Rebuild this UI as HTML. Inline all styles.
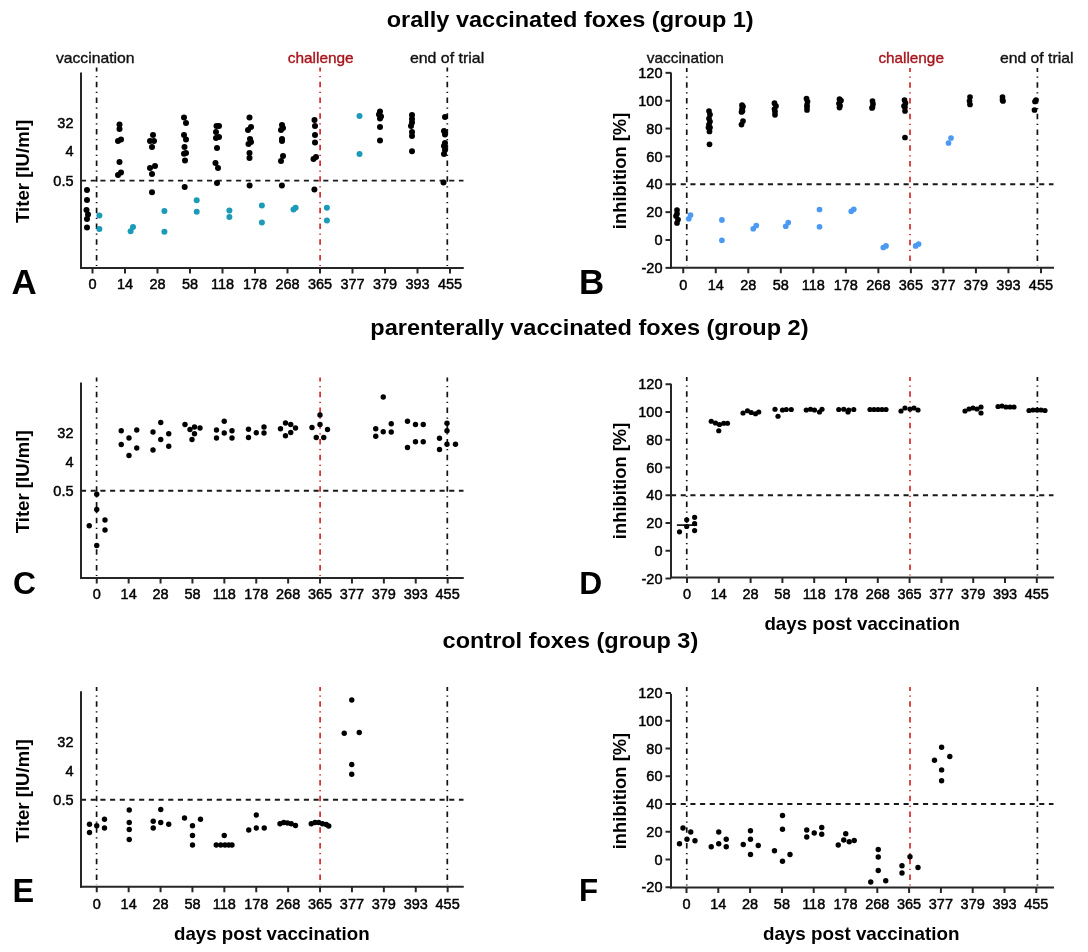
<!DOCTYPE html><html><head><meta charset="utf-8"><style>html,body{margin:0;padding:0;background:#fff;width:1088px;height:952px;overflow:hidden}</style></head><body><svg width="1088" height="952" viewBox="0 0 1088 952" style="position:absolute;left:0;top:0;will-change:transform;font-family:'Liberation Sans', sans-serif">
<rect width="1088" height="952" fill="#fff"/>
<text x="386.70" y="27.20" font-size="22" font-weight="bold" text-anchor="start" fill="#000" textLength="367" lengthAdjust="spacingAndGlyphs">orally vaccinated foxes (group 1)</text>
<text x="370.30" y="335.40" font-size="22" font-weight="bold" text-anchor="start" fill="#000" textLength="438.2" lengthAdjust="spacingAndGlyphs">parenterally vaccinated foxes (group 2)</text>
<text x="442.60" y="647.60" font-size="22" font-weight="bold" text-anchor="start" fill="#000" textLength="255.6" lengthAdjust="spacingAndGlyphs">control foxes (group 3)</text>
<text x="55.90" y="62.60" font-size="15" font-weight="normal" text-anchor="start" fill="#111" textLength="78.7" lengthAdjust="spacingAndGlyphs" stroke="#111" stroke-width="0.35">vaccination</text>
<text x="287.70" y="62.60" font-size="15" font-weight="normal" text-anchor="start" fill="#a8141c" textLength="66" lengthAdjust="spacingAndGlyphs" stroke="#a8141c" stroke-width="0.35">challenge</text>
<text x="409.90" y="62.60" font-size="15" font-weight="normal" text-anchor="start" fill="#111" textLength="74.3" lengthAdjust="spacingAndGlyphs" stroke="#111" stroke-width="0.35">end of trial</text>
<text x="646.80" y="62.60" font-size="15" font-weight="normal" text-anchor="start" fill="#111" textLength="77" lengthAdjust="spacingAndGlyphs" stroke="#111" stroke-width="0.35">vaccination</text>
<text x="878.40" y="62.60" font-size="15" font-weight="normal" text-anchor="start" fill="#a8141c" textLength="65.5" lengthAdjust="spacingAndGlyphs" stroke="#a8141c" stroke-width="0.35">challenge</text>
<text x="999.90" y="62.60" font-size="15" font-weight="normal" text-anchor="start" fill="#111" textLength="73.5" lengthAdjust="spacingAndGlyphs" stroke="#111" stroke-width="0.35">end of trial</text>
<line x1="81.00" y1="72.50" x2="81.00" y2="269.00" stroke="#262626" stroke-width="2"/>
<line x1="80.00" y1="268.00" x2="463.75" y2="268.00" stroke="#262626" stroke-width="2"/>
<line x1="92.50" y1="268.00" x2="92.50" y2="273.50" stroke="#262626" stroke-width="2"/>
<text x="92.50" y="289.20" font-size="14.5" font-weight="normal" text-anchor="middle" fill="#000" stroke="#000" stroke-width="0.45">0</text>
<line x1="125.00" y1="268.00" x2="125.00" y2="273.50" stroke="#262626" stroke-width="2"/>
<text x="125.00" y="289.20" font-size="14.5" font-weight="normal" text-anchor="middle" fill="#000" stroke="#000" stroke-width="0.45">14</text>
<line x1="157.50" y1="268.00" x2="157.50" y2="273.50" stroke="#262626" stroke-width="2"/>
<text x="157.50" y="289.20" font-size="14.5" font-weight="normal" text-anchor="middle" fill="#000" stroke="#000" stroke-width="0.45">28</text>
<line x1="190.00" y1="268.00" x2="190.00" y2="273.50" stroke="#262626" stroke-width="2"/>
<text x="190.00" y="289.20" font-size="14.5" font-weight="normal" text-anchor="middle" fill="#000" stroke="#000" stroke-width="0.45">58</text>
<line x1="222.50" y1="268.00" x2="222.50" y2="273.50" stroke="#262626" stroke-width="2"/>
<text x="222.50" y="289.20" font-size="14.5" font-weight="normal" text-anchor="middle" fill="#000" stroke="#000" stroke-width="0.45">118</text>
<line x1="255.00" y1="268.00" x2="255.00" y2="273.50" stroke="#262626" stroke-width="2"/>
<text x="255.00" y="289.20" font-size="14.5" font-weight="normal" text-anchor="middle" fill="#000" stroke="#000" stroke-width="0.45">178</text>
<line x1="287.50" y1="268.00" x2="287.50" y2="273.50" stroke="#262626" stroke-width="2"/>
<text x="287.50" y="289.20" font-size="14.5" font-weight="normal" text-anchor="middle" fill="#000" stroke="#000" stroke-width="0.45">268</text>
<line x1="320.00" y1="268.00" x2="320.00" y2="273.50" stroke="#262626" stroke-width="2"/>
<text x="320.00" y="289.20" font-size="14.5" font-weight="normal" text-anchor="middle" fill="#000" stroke="#000" stroke-width="0.45">365</text>
<line x1="352.50" y1="268.00" x2="352.50" y2="273.50" stroke="#262626" stroke-width="2"/>
<text x="352.50" y="289.20" font-size="14.5" font-weight="normal" text-anchor="middle" fill="#000" stroke="#000" stroke-width="0.45">377</text>
<line x1="385.00" y1="268.00" x2="385.00" y2="273.50" stroke="#262626" stroke-width="2"/>
<text x="385.00" y="289.20" font-size="14.5" font-weight="normal" text-anchor="middle" fill="#000" stroke="#000" stroke-width="0.45">379</text>
<line x1="417.50" y1="268.00" x2="417.50" y2="273.50" stroke="#262626" stroke-width="2"/>
<text x="417.50" y="289.20" font-size="14.5" font-weight="normal" text-anchor="middle" fill="#000" stroke="#000" stroke-width="0.45">393</text>
<line x1="450.00" y1="268.00" x2="450.00" y2="273.50" stroke="#262626" stroke-width="2"/>
<text x="450.00" y="289.20" font-size="14.5" font-weight="normal" text-anchor="middle" fill="#000" stroke="#000" stroke-width="0.45">455</text>
<text x="73.50" y="127.70" font-size="14.5" font-weight="normal" text-anchor="end" fill="#000" stroke="#000" stroke-width="0.45">32</text>
<text x="73.50" y="156.20" font-size="14.5" font-weight="normal" text-anchor="end" fill="#000" stroke="#000" stroke-width="0.45">4</text>
<text x="73.50" y="185.60" font-size="14.5" font-weight="normal" text-anchor="end" fill="#000" stroke="#000" stroke-width="0.45">0.5</text>
<line x1="82.00" y1="180.60" x2="463.50" y2="180.60" stroke="#1a1a1a" stroke-width="1.9" stroke-dasharray="5.1,4.59" stroke-dashoffset="1"/>
<line x1="96.60" y1="67.50" x2="96.60" y2="266.00" stroke="#111" stroke-width="1.7" stroke-dasharray="5.4,4.5,1.3,4.55" stroke-dashoffset="1.5"/>
<line x1="320.10" y1="67.50" x2="320.10" y2="266.00" stroke="#d42a2a" stroke-width="1.7" stroke-dasharray="5.4,4.5,1.3,4.55" stroke-dashoffset="1.5"/>
<line x1="447.30" y1="67.50" x2="447.30" y2="266.00" stroke="#111" stroke-width="1.7" stroke-dasharray="5.4,4.5,1.3,4.55" stroke-dashoffset="1.5"/>
<text transform="translate(28.90,171.40) rotate(-90)" font-size="17.5" font-weight="bold" text-anchor="middle" fill="#000" textLength="103" lengthAdjust="spacingAndGlyphs">Titer [IU/ml]</text>
<text x="11.60" y="293.50" font-size="34.91620111731844" font-weight="bold" text-anchor="start" fill="#000">A</text>
<line x1="81.00" y1="382.50" x2="81.00" y2="579.00" stroke="#262626" stroke-width="2"/>
<line x1="80.00" y1="578.00" x2="463.75" y2="578.00" stroke="#262626" stroke-width="2"/>
<line x1="96.75" y1="578.00" x2="96.75" y2="583.50" stroke="#262626" stroke-width="2"/>
<text x="96.75" y="599.00" font-size="14.5" font-weight="normal" text-anchor="middle" fill="#000" stroke="#000" stroke-width="0.45">0</text>
<line x1="128.65" y1="578.00" x2="128.65" y2="583.50" stroke="#262626" stroke-width="2"/>
<text x="128.65" y="599.00" font-size="14.5" font-weight="normal" text-anchor="middle" fill="#000" stroke="#000" stroke-width="0.45">14</text>
<line x1="160.55" y1="578.00" x2="160.55" y2="583.50" stroke="#262626" stroke-width="2"/>
<text x="160.55" y="599.00" font-size="14.5" font-weight="normal" text-anchor="middle" fill="#000" stroke="#000" stroke-width="0.45">28</text>
<line x1="192.45" y1="578.00" x2="192.45" y2="583.50" stroke="#262626" stroke-width="2"/>
<text x="192.45" y="599.00" font-size="14.5" font-weight="normal" text-anchor="middle" fill="#000" stroke="#000" stroke-width="0.45">58</text>
<line x1="224.35" y1="578.00" x2="224.35" y2="583.50" stroke="#262626" stroke-width="2"/>
<text x="224.35" y="599.00" font-size="14.5" font-weight="normal" text-anchor="middle" fill="#000" stroke="#000" stroke-width="0.45">118</text>
<line x1="256.25" y1="578.00" x2="256.25" y2="583.50" stroke="#262626" stroke-width="2"/>
<text x="256.25" y="599.00" font-size="14.5" font-weight="normal" text-anchor="middle" fill="#000" stroke="#000" stroke-width="0.45">178</text>
<line x1="288.15" y1="578.00" x2="288.15" y2="583.50" stroke="#262626" stroke-width="2"/>
<text x="288.15" y="599.00" font-size="14.5" font-weight="normal" text-anchor="middle" fill="#000" stroke="#000" stroke-width="0.45">268</text>
<line x1="320.05" y1="578.00" x2="320.05" y2="583.50" stroke="#262626" stroke-width="2"/>
<text x="320.05" y="599.00" font-size="14.5" font-weight="normal" text-anchor="middle" fill="#000" stroke="#000" stroke-width="0.45">365</text>
<line x1="351.95" y1="578.00" x2="351.95" y2="583.50" stroke="#262626" stroke-width="2"/>
<text x="351.95" y="599.00" font-size="14.5" font-weight="normal" text-anchor="middle" fill="#000" stroke="#000" stroke-width="0.45">377</text>
<line x1="383.85" y1="578.00" x2="383.85" y2="583.50" stroke="#262626" stroke-width="2"/>
<text x="383.85" y="599.00" font-size="14.5" font-weight="normal" text-anchor="middle" fill="#000" stroke="#000" stroke-width="0.45">379</text>
<line x1="415.75" y1="578.00" x2="415.75" y2="583.50" stroke="#262626" stroke-width="2"/>
<text x="415.75" y="599.00" font-size="14.5" font-weight="normal" text-anchor="middle" fill="#000" stroke="#000" stroke-width="0.45">393</text>
<line x1="447.65" y1="578.00" x2="447.65" y2="583.50" stroke="#262626" stroke-width="2"/>
<text x="447.65" y="599.00" font-size="14.5" font-weight="normal" text-anchor="middle" fill="#000" stroke="#000" stroke-width="0.45">455</text>
<text x="73.50" y="438.10" font-size="14.5" font-weight="normal" text-anchor="end" fill="#000" stroke="#000" stroke-width="0.45">32</text>
<text x="73.50" y="466.60" font-size="14.5" font-weight="normal" text-anchor="end" fill="#000" stroke="#000" stroke-width="0.45">4</text>
<text x="73.50" y="496.00" font-size="14.5" font-weight="normal" text-anchor="end" fill="#000" stroke="#000" stroke-width="0.45">0.5</text>
<line x1="82.00" y1="490.75" x2="463.50" y2="490.75" stroke="#1a1a1a" stroke-width="1.9" stroke-dasharray="5.1,4.59" stroke-dashoffset="1"/>
<line x1="96.60" y1="377.50" x2="96.60" y2="576.00" stroke="#111" stroke-width="1.7" stroke-dasharray="5.4,4.5,1.3,4.55" stroke-dashoffset="1.5"/>
<line x1="320.10" y1="377.50" x2="320.10" y2="576.00" stroke="#d42a2a" stroke-width="1.7" stroke-dasharray="5.4,4.5,1.3,4.55" stroke-dashoffset="1.5"/>
<line x1="447.30" y1="377.50" x2="447.30" y2="576.00" stroke="#111" stroke-width="1.7" stroke-dasharray="5.4,4.5,1.3,4.55" stroke-dashoffset="1.5"/>
<text transform="translate(28.90,481.80) rotate(-90)" font-size="17.5" font-weight="bold" text-anchor="middle" fill="#000" textLength="103" lengthAdjust="spacingAndGlyphs">Titer [IU/ml]</text>
<text x="13.00" y="593.75" font-size="31.773743016759777" font-weight="bold" text-anchor="start" fill="#000">C</text>
<line x1="81.00" y1="691.25" x2="81.00" y2="887.75" stroke="#262626" stroke-width="2"/>
<line x1="80.00" y1="886.75" x2="463.75" y2="886.75" stroke="#262626" stroke-width="2"/>
<line x1="96.75" y1="886.75" x2="96.75" y2="892.25" stroke="#262626" stroke-width="2"/>
<text x="96.75" y="908.70" font-size="14.5" font-weight="normal" text-anchor="middle" fill="#000" stroke="#000" stroke-width="0.45">0</text>
<line x1="128.65" y1="886.75" x2="128.65" y2="892.25" stroke="#262626" stroke-width="2"/>
<text x="128.65" y="908.70" font-size="14.5" font-weight="normal" text-anchor="middle" fill="#000" stroke="#000" stroke-width="0.45">14</text>
<line x1="160.55" y1="886.75" x2="160.55" y2="892.25" stroke="#262626" stroke-width="2"/>
<text x="160.55" y="908.70" font-size="14.5" font-weight="normal" text-anchor="middle" fill="#000" stroke="#000" stroke-width="0.45">28</text>
<line x1="192.45" y1="886.75" x2="192.45" y2="892.25" stroke="#262626" stroke-width="2"/>
<text x="192.45" y="908.70" font-size="14.5" font-weight="normal" text-anchor="middle" fill="#000" stroke="#000" stroke-width="0.45">58</text>
<line x1="224.35" y1="886.75" x2="224.35" y2="892.25" stroke="#262626" stroke-width="2"/>
<text x="224.35" y="908.70" font-size="14.5" font-weight="normal" text-anchor="middle" fill="#000" stroke="#000" stroke-width="0.45">118</text>
<line x1="256.25" y1="886.75" x2="256.25" y2="892.25" stroke="#262626" stroke-width="2"/>
<text x="256.25" y="908.70" font-size="14.5" font-weight="normal" text-anchor="middle" fill="#000" stroke="#000" stroke-width="0.45">178</text>
<line x1="288.15" y1="886.75" x2="288.15" y2="892.25" stroke="#262626" stroke-width="2"/>
<text x="288.15" y="908.70" font-size="14.5" font-weight="normal" text-anchor="middle" fill="#000" stroke="#000" stroke-width="0.45">268</text>
<line x1="320.05" y1="886.75" x2="320.05" y2="892.25" stroke="#262626" stroke-width="2"/>
<text x="320.05" y="908.70" font-size="14.5" font-weight="normal" text-anchor="middle" fill="#000" stroke="#000" stroke-width="0.45">365</text>
<line x1="351.95" y1="886.75" x2="351.95" y2="892.25" stroke="#262626" stroke-width="2"/>
<text x="351.95" y="908.70" font-size="14.5" font-weight="normal" text-anchor="middle" fill="#000" stroke="#000" stroke-width="0.45">377</text>
<line x1="383.85" y1="886.75" x2="383.85" y2="892.25" stroke="#262626" stroke-width="2"/>
<text x="383.85" y="908.70" font-size="14.5" font-weight="normal" text-anchor="middle" fill="#000" stroke="#000" stroke-width="0.45">379</text>
<line x1="415.75" y1="886.75" x2="415.75" y2="892.25" stroke="#262626" stroke-width="2"/>
<text x="415.75" y="908.70" font-size="14.5" font-weight="normal" text-anchor="middle" fill="#000" stroke="#000" stroke-width="0.45">393</text>
<line x1="447.65" y1="886.75" x2="447.65" y2="892.25" stroke="#262626" stroke-width="2"/>
<text x="447.65" y="908.70" font-size="14.5" font-weight="normal" text-anchor="middle" fill="#000" stroke="#000" stroke-width="0.45">455</text>
<text x="73.50" y="747.20" font-size="14.5" font-weight="normal" text-anchor="end" fill="#000" stroke="#000" stroke-width="0.45">32</text>
<text x="73.50" y="775.70" font-size="14.5" font-weight="normal" text-anchor="end" fill="#000" stroke="#000" stroke-width="0.45">4</text>
<text x="73.50" y="805.10" font-size="14.5" font-weight="normal" text-anchor="end" fill="#000" stroke="#000" stroke-width="0.45">0.5</text>
<line x1="82.00" y1="799.75" x2="463.50" y2="799.75" stroke="#1a1a1a" stroke-width="1.9" stroke-dasharray="5.1,4.59" stroke-dashoffset="1"/>
<line x1="96.60" y1="687.00" x2="96.60" y2="884.75" stroke="#111" stroke-width="1.7" stroke-dasharray="5.4,4.5,1.3,4.55" stroke-dashoffset="1.5"/>
<line x1="320.10" y1="687.00" x2="320.10" y2="884.75" stroke="#d42a2a" stroke-width="1.7" stroke-dasharray="5.4,4.5,1.3,4.55" stroke-dashoffset="1.5"/>
<line x1="447.30" y1="687.00" x2="447.30" y2="884.75" stroke="#111" stroke-width="1.7" stroke-dasharray="5.4,4.5,1.3,4.55" stroke-dashoffset="1.5"/>
<text transform="translate(28.90,790.90) rotate(-90)" font-size="17.5" font-weight="bold" text-anchor="middle" fill="#000" textLength="103" lengthAdjust="spacingAndGlyphs">Titer [IU/ml]</text>
<text x="12.50" y="902.00" font-size="32.47206703910614" font-weight="bold" text-anchor="start" fill="#000">E</text>
<line x1="671.00" y1="72.50" x2="671.00" y2="268.75" stroke="#262626" stroke-width="2"/>
<line x1="670.00" y1="267.75" x2="1054.00" y2="267.75" stroke="#262626" stroke-width="2"/>
<line x1="683.25" y1="267.75" x2="683.25" y2="273.25" stroke="#262626" stroke-width="2"/>
<text x="683.25" y="289.70" font-size="14.5" font-weight="normal" text-anchor="middle" fill="#000" stroke="#000" stroke-width="0.45">0</text>
<line x1="715.77" y1="267.75" x2="715.77" y2="273.25" stroke="#262626" stroke-width="2"/>
<text x="715.77" y="289.70" font-size="14.5" font-weight="normal" text-anchor="middle" fill="#000" stroke="#000" stroke-width="0.45">14</text>
<line x1="748.29" y1="267.75" x2="748.29" y2="273.25" stroke="#262626" stroke-width="2"/>
<text x="748.29" y="289.70" font-size="14.5" font-weight="normal" text-anchor="middle" fill="#000" stroke="#000" stroke-width="0.45">28</text>
<line x1="780.81" y1="267.75" x2="780.81" y2="273.25" stroke="#262626" stroke-width="2"/>
<text x="780.81" y="289.70" font-size="14.5" font-weight="normal" text-anchor="middle" fill="#000" stroke="#000" stroke-width="0.45">58</text>
<line x1="813.33" y1="267.75" x2="813.33" y2="273.25" stroke="#262626" stroke-width="2"/>
<text x="813.33" y="289.70" font-size="14.5" font-weight="normal" text-anchor="middle" fill="#000" stroke="#000" stroke-width="0.45">118</text>
<line x1="845.85" y1="267.75" x2="845.85" y2="273.25" stroke="#262626" stroke-width="2"/>
<text x="845.85" y="289.70" font-size="14.5" font-weight="normal" text-anchor="middle" fill="#000" stroke="#000" stroke-width="0.45">178</text>
<line x1="878.37" y1="267.75" x2="878.37" y2="273.25" stroke="#262626" stroke-width="2"/>
<text x="878.37" y="289.70" font-size="14.5" font-weight="normal" text-anchor="middle" fill="#000" stroke="#000" stroke-width="0.45">268</text>
<line x1="910.89" y1="267.75" x2="910.89" y2="273.25" stroke="#262626" stroke-width="2"/>
<text x="910.89" y="289.70" font-size="14.5" font-weight="normal" text-anchor="middle" fill="#000" stroke="#000" stroke-width="0.45">365</text>
<line x1="943.41" y1="267.75" x2="943.41" y2="273.25" stroke="#262626" stroke-width="2"/>
<text x="943.41" y="289.70" font-size="14.5" font-weight="normal" text-anchor="middle" fill="#000" stroke="#000" stroke-width="0.45">377</text>
<line x1="975.93" y1="267.75" x2="975.93" y2="273.25" stroke="#262626" stroke-width="2"/>
<text x="975.93" y="289.70" font-size="14.5" font-weight="normal" text-anchor="middle" fill="#000" stroke="#000" stroke-width="0.45">379</text>
<line x1="1008.45" y1="267.75" x2="1008.45" y2="273.25" stroke="#262626" stroke-width="2"/>
<text x="1008.45" y="289.70" font-size="14.5" font-weight="normal" text-anchor="middle" fill="#000" stroke="#000" stroke-width="0.45">393</text>
<line x1="1040.97" y1="267.75" x2="1040.97" y2="273.25" stroke="#262626" stroke-width="2"/>
<text x="1040.97" y="289.70" font-size="14.5" font-weight="normal" text-anchor="middle" fill="#000" stroke="#000" stroke-width="0.45">455</text>
<line x1="665.50" y1="267.86" x2="671.00" y2="267.86" stroke="#262626" stroke-width="2"/>
<text x="662.50" y="273.06" font-size="14.5" font-weight="normal" text-anchor="end" fill="#000" stroke="#000" stroke-width="0.45">-20</text>
<line x1="665.50" y1="240.00" x2="671.00" y2="240.00" stroke="#262626" stroke-width="2"/>
<text x="662.50" y="245.20" font-size="14.5" font-weight="normal" text-anchor="end" fill="#000" stroke="#000" stroke-width="0.45">0</text>
<line x1="665.50" y1="212.14" x2="671.00" y2="212.14" stroke="#262626" stroke-width="2"/>
<text x="662.50" y="217.34" font-size="14.5" font-weight="normal" text-anchor="end" fill="#000" stroke="#000" stroke-width="0.45">20</text>
<line x1="665.50" y1="184.28" x2="671.00" y2="184.28" stroke="#262626" stroke-width="2"/>
<text x="662.50" y="189.48" font-size="14.5" font-weight="normal" text-anchor="end" fill="#000" stroke="#000" stroke-width="0.45">40</text>
<line x1="665.50" y1="156.42" x2="671.00" y2="156.42" stroke="#262626" stroke-width="2"/>
<text x="662.50" y="161.62" font-size="14.5" font-weight="normal" text-anchor="end" fill="#000" stroke="#000" stroke-width="0.45">60</text>
<line x1="665.50" y1="128.56" x2="671.00" y2="128.56" stroke="#262626" stroke-width="2"/>
<text x="662.50" y="133.76" font-size="14.5" font-weight="normal" text-anchor="end" fill="#000" stroke="#000" stroke-width="0.45">80</text>
<line x1="665.50" y1="100.70" x2="671.00" y2="100.70" stroke="#262626" stroke-width="2"/>
<text x="662.50" y="105.90" font-size="14.5" font-weight="normal" text-anchor="end" fill="#000" stroke="#000" stroke-width="0.45">100</text>
<line x1="665.50" y1="72.84" x2="671.00" y2="72.84" stroke="#262626" stroke-width="2"/>
<text x="662.50" y="78.04" font-size="14.5" font-weight="normal" text-anchor="end" fill="#000" stroke="#000" stroke-width="0.45">120</text>
<line x1="672.00" y1="184.28" x2="1053.50" y2="184.28" stroke="#1a1a1a" stroke-width="1.9" stroke-dasharray="5.1,4.59" stroke-dashoffset="1"/>
<line x1="686.75" y1="68.00" x2="686.75" y2="265.75" stroke="#111" stroke-width="1.7" stroke-dasharray="5.4,4.5,1.3,4.55" stroke-dashoffset="1.5"/>
<line x1="910.00" y1="68.00" x2="910.00" y2="265.75" stroke="#d42a2a" stroke-width="1.7" stroke-dasharray="5.4,4.5,1.3,4.55" stroke-dashoffset="1.5"/>
<line x1="1037.40" y1="68.00" x2="1037.40" y2="265.75" stroke="#111" stroke-width="1.7" stroke-dasharray="5.4,4.5,1.3,4.55" stroke-dashoffset="1.5"/>
<text transform="translate(626.00,170.90) rotate(-90)" font-size="18.8" font-weight="bold" text-anchor="middle" fill="#000" textLength="116.5" lengthAdjust="spacingAndGlyphs">inhibition [%]</text>
<text x="579.10" y="293.50" font-size="34.91620111731844" font-weight="bold" text-anchor="start" fill="#000">B</text>
<line x1="671.00" y1="383.75" x2="671.00" y2="578.50" stroke="#262626" stroke-width="2"/>
<line x1="670.00" y1="577.50" x2="1054.00" y2="577.50" stroke="#262626" stroke-width="2"/>
<line x1="687.00" y1="577.50" x2="687.00" y2="583.00" stroke="#262626" stroke-width="2"/>
<text x="687.00" y="599.45" font-size="14.5" font-weight="normal" text-anchor="middle" fill="#000" stroke="#000" stroke-width="0.45">0</text>
<line x1="718.80" y1="577.50" x2="718.80" y2="583.00" stroke="#262626" stroke-width="2"/>
<text x="718.80" y="599.45" font-size="14.5" font-weight="normal" text-anchor="middle" fill="#000" stroke="#000" stroke-width="0.45">14</text>
<line x1="750.60" y1="577.50" x2="750.60" y2="583.00" stroke="#262626" stroke-width="2"/>
<text x="750.60" y="599.45" font-size="14.5" font-weight="normal" text-anchor="middle" fill="#000" stroke="#000" stroke-width="0.45">28</text>
<line x1="782.40" y1="577.50" x2="782.40" y2="583.00" stroke="#262626" stroke-width="2"/>
<text x="782.40" y="599.45" font-size="14.5" font-weight="normal" text-anchor="middle" fill="#000" stroke="#000" stroke-width="0.45">58</text>
<line x1="814.20" y1="577.50" x2="814.20" y2="583.00" stroke="#262626" stroke-width="2"/>
<text x="814.20" y="599.45" font-size="14.5" font-weight="normal" text-anchor="middle" fill="#000" stroke="#000" stroke-width="0.45">118</text>
<line x1="846.00" y1="577.50" x2="846.00" y2="583.00" stroke="#262626" stroke-width="2"/>
<text x="846.00" y="599.45" font-size="14.5" font-weight="normal" text-anchor="middle" fill="#000" stroke="#000" stroke-width="0.45">178</text>
<line x1="877.80" y1="577.50" x2="877.80" y2="583.00" stroke="#262626" stroke-width="2"/>
<text x="877.80" y="599.45" font-size="14.5" font-weight="normal" text-anchor="middle" fill="#000" stroke="#000" stroke-width="0.45">268</text>
<line x1="909.60" y1="577.50" x2="909.60" y2="583.00" stroke="#262626" stroke-width="2"/>
<text x="909.60" y="599.45" font-size="14.5" font-weight="normal" text-anchor="middle" fill="#000" stroke="#000" stroke-width="0.45">365</text>
<line x1="941.40" y1="577.50" x2="941.40" y2="583.00" stroke="#262626" stroke-width="2"/>
<text x="941.40" y="599.45" font-size="14.5" font-weight="normal" text-anchor="middle" fill="#000" stroke="#000" stroke-width="0.45">377</text>
<line x1="973.20" y1="577.50" x2="973.20" y2="583.00" stroke="#262626" stroke-width="2"/>
<text x="973.20" y="599.45" font-size="14.5" font-weight="normal" text-anchor="middle" fill="#000" stroke="#000" stroke-width="0.45">379</text>
<line x1="1005.00" y1="577.50" x2="1005.00" y2="583.00" stroke="#262626" stroke-width="2"/>
<text x="1005.00" y="599.45" font-size="14.5" font-weight="normal" text-anchor="middle" fill="#000" stroke="#000" stroke-width="0.45">393</text>
<line x1="1036.80" y1="577.50" x2="1036.80" y2="583.00" stroke="#262626" stroke-width="2"/>
<text x="1036.80" y="599.45" font-size="14.5" font-weight="normal" text-anchor="middle" fill="#000" stroke="#000" stroke-width="0.45">455</text>
<line x1="665.50" y1="578.50" x2="671.00" y2="578.50" stroke="#262626" stroke-width="2"/>
<text x="662.50" y="583.70" font-size="14.5" font-weight="normal" text-anchor="end" fill="#000" stroke="#000" stroke-width="0.45">-20</text>
<line x1="665.50" y1="550.75" x2="671.00" y2="550.75" stroke="#262626" stroke-width="2"/>
<text x="662.50" y="555.95" font-size="14.5" font-weight="normal" text-anchor="end" fill="#000" stroke="#000" stroke-width="0.45">0</text>
<line x1="665.50" y1="523.00" x2="671.00" y2="523.00" stroke="#262626" stroke-width="2"/>
<text x="662.50" y="528.20" font-size="14.5" font-weight="normal" text-anchor="end" fill="#000" stroke="#000" stroke-width="0.45">20</text>
<line x1="665.50" y1="495.25" x2="671.00" y2="495.25" stroke="#262626" stroke-width="2"/>
<text x="662.50" y="500.45" font-size="14.5" font-weight="normal" text-anchor="end" fill="#000" stroke="#000" stroke-width="0.45">40</text>
<line x1="665.50" y1="467.50" x2="671.00" y2="467.50" stroke="#262626" stroke-width="2"/>
<text x="662.50" y="472.70" font-size="14.5" font-weight="normal" text-anchor="end" fill="#000" stroke="#000" stroke-width="0.45">60</text>
<line x1="665.50" y1="439.75" x2="671.00" y2="439.75" stroke="#262626" stroke-width="2"/>
<text x="662.50" y="444.95" font-size="14.5" font-weight="normal" text-anchor="end" fill="#000" stroke="#000" stroke-width="0.45">80</text>
<line x1="665.50" y1="412.00" x2="671.00" y2="412.00" stroke="#262626" stroke-width="2"/>
<text x="662.50" y="417.20" font-size="14.5" font-weight="normal" text-anchor="end" fill="#000" stroke="#000" stroke-width="0.45">100</text>
<line x1="665.50" y1="384.25" x2="671.00" y2="384.25" stroke="#262626" stroke-width="2"/>
<text x="662.50" y="389.45" font-size="14.5" font-weight="normal" text-anchor="end" fill="#000" stroke="#000" stroke-width="0.45">120</text>
<line x1="672.00" y1="495.25" x2="1053.50" y2="495.25" stroke="#1a1a1a" stroke-width="1.9" stroke-dasharray="5.1,4.59" stroke-dashoffset="1"/>
<line x1="686.75" y1="377.00" x2="686.75" y2="575.50" stroke="#111" stroke-width="1.7" stroke-dasharray="5.4,4.5,1.3,4.55" stroke-dashoffset="1.5"/>
<line x1="910.00" y1="377.00" x2="910.00" y2="575.50" stroke="#d42a2a" stroke-width="1.7" stroke-dasharray="5.4,4.5,1.3,4.55" stroke-dashoffset="1.5"/>
<line x1="1037.40" y1="377.00" x2="1037.40" y2="575.50" stroke="#111" stroke-width="1.7" stroke-dasharray="5.4,4.5,1.3,4.55" stroke-dashoffset="1.5"/>
<text transform="translate(626.00,480.90) rotate(-90)" font-size="18.8" font-weight="bold" text-anchor="middle" fill="#000" textLength="116.5" lengthAdjust="spacingAndGlyphs">inhibition [%]</text>
<text x="579.25" y="593.50" font-size="31.773743016759777" font-weight="bold" text-anchor="start" fill="#000">D</text>
<line x1="671.00" y1="693.75" x2="671.00" y2="888.50" stroke="#262626" stroke-width="2"/>
<line x1="670.00" y1="887.50" x2="1054.00" y2="887.50" stroke="#262626" stroke-width="2"/>
<line x1="686.50" y1="887.50" x2="686.50" y2="893.00" stroke="#262626" stroke-width="2"/>
<text x="686.50" y="909.45" font-size="14.5" font-weight="normal" text-anchor="middle" fill="#000" stroke="#000" stroke-width="0.45">0</text>
<line x1="718.30" y1="887.50" x2="718.30" y2="893.00" stroke="#262626" stroke-width="2"/>
<text x="718.30" y="909.45" font-size="14.5" font-weight="normal" text-anchor="middle" fill="#000" stroke="#000" stroke-width="0.45">14</text>
<line x1="750.10" y1="887.50" x2="750.10" y2="893.00" stroke="#262626" stroke-width="2"/>
<text x="750.10" y="909.45" font-size="14.5" font-weight="normal" text-anchor="middle" fill="#000" stroke="#000" stroke-width="0.45">28</text>
<line x1="781.90" y1="887.50" x2="781.90" y2="893.00" stroke="#262626" stroke-width="2"/>
<text x="781.90" y="909.45" font-size="14.5" font-weight="normal" text-anchor="middle" fill="#000" stroke="#000" stroke-width="0.45">58</text>
<line x1="813.70" y1="887.50" x2="813.70" y2="893.00" stroke="#262626" stroke-width="2"/>
<text x="813.70" y="909.45" font-size="14.5" font-weight="normal" text-anchor="middle" fill="#000" stroke="#000" stroke-width="0.45">118</text>
<line x1="845.50" y1="887.50" x2="845.50" y2="893.00" stroke="#262626" stroke-width="2"/>
<text x="845.50" y="909.45" font-size="14.5" font-weight="normal" text-anchor="middle" fill="#000" stroke="#000" stroke-width="0.45">178</text>
<line x1="877.30" y1="887.50" x2="877.30" y2="893.00" stroke="#262626" stroke-width="2"/>
<text x="877.30" y="909.45" font-size="14.5" font-weight="normal" text-anchor="middle" fill="#000" stroke="#000" stroke-width="0.45">268</text>
<line x1="909.10" y1="887.50" x2="909.10" y2="893.00" stroke="#262626" stroke-width="2"/>
<text x="909.10" y="909.45" font-size="14.5" font-weight="normal" text-anchor="middle" fill="#000" stroke="#000" stroke-width="0.45">365</text>
<line x1="940.90" y1="887.50" x2="940.90" y2="893.00" stroke="#262626" stroke-width="2"/>
<text x="940.90" y="909.45" font-size="14.5" font-weight="normal" text-anchor="middle" fill="#000" stroke="#000" stroke-width="0.45">377</text>
<line x1="972.70" y1="887.50" x2="972.70" y2="893.00" stroke="#262626" stroke-width="2"/>
<text x="972.70" y="909.45" font-size="14.5" font-weight="normal" text-anchor="middle" fill="#000" stroke="#000" stroke-width="0.45">379</text>
<line x1="1004.50" y1="887.50" x2="1004.50" y2="893.00" stroke="#262626" stroke-width="2"/>
<text x="1004.50" y="909.45" font-size="14.5" font-weight="normal" text-anchor="middle" fill="#000" stroke="#000" stroke-width="0.45">393</text>
<line x1="1036.30" y1="887.50" x2="1036.30" y2="893.00" stroke="#262626" stroke-width="2"/>
<text x="1036.30" y="909.45" font-size="14.5" font-weight="normal" text-anchor="middle" fill="#000" stroke="#000" stroke-width="0.45">455</text>
<line x1="665.50" y1="887.25" x2="671.00" y2="887.25" stroke="#262626" stroke-width="2"/>
<text x="662.50" y="892.45" font-size="14.5" font-weight="normal" text-anchor="end" fill="#000" stroke="#000" stroke-width="0.45">-20</text>
<line x1="665.50" y1="859.50" x2="671.00" y2="859.50" stroke="#262626" stroke-width="2"/>
<text x="662.50" y="864.70" font-size="14.5" font-weight="normal" text-anchor="end" fill="#000" stroke="#000" stroke-width="0.45">0</text>
<line x1="665.50" y1="831.75" x2="671.00" y2="831.75" stroke="#262626" stroke-width="2"/>
<text x="662.50" y="836.95" font-size="14.5" font-weight="normal" text-anchor="end" fill="#000" stroke="#000" stroke-width="0.45">20</text>
<line x1="665.50" y1="804.00" x2="671.00" y2="804.00" stroke="#262626" stroke-width="2"/>
<text x="662.50" y="809.20" font-size="14.5" font-weight="normal" text-anchor="end" fill="#000" stroke="#000" stroke-width="0.45">40</text>
<line x1="665.50" y1="776.25" x2="671.00" y2="776.25" stroke="#262626" stroke-width="2"/>
<text x="662.50" y="781.45" font-size="14.5" font-weight="normal" text-anchor="end" fill="#000" stroke="#000" stroke-width="0.45">60</text>
<line x1="665.50" y1="748.50" x2="671.00" y2="748.50" stroke="#262626" stroke-width="2"/>
<text x="662.50" y="753.70" font-size="14.5" font-weight="normal" text-anchor="end" fill="#000" stroke="#000" stroke-width="0.45">80</text>
<line x1="665.50" y1="720.75" x2="671.00" y2="720.75" stroke="#262626" stroke-width="2"/>
<text x="662.50" y="725.95" font-size="14.5" font-weight="normal" text-anchor="end" fill="#000" stroke="#000" stroke-width="0.45">100</text>
<line x1="665.50" y1="693.00" x2="671.00" y2="693.00" stroke="#262626" stroke-width="2"/>
<text x="662.50" y="698.20" font-size="14.5" font-weight="normal" text-anchor="end" fill="#000" stroke="#000" stroke-width="0.45">120</text>
<line x1="672.00" y1="804.00" x2="1053.50" y2="804.00" stroke="#1a1a1a" stroke-width="1.9" stroke-dasharray="5.1,4.59" stroke-dashoffset="1"/>
<line x1="686.75" y1="687.00" x2="686.75" y2="885.50" stroke="#111" stroke-width="1.7" stroke-dasharray="5.4,4.5,1.3,4.55" stroke-dashoffset="1.5"/>
<line x1="910.00" y1="687.00" x2="910.00" y2="885.50" stroke="#d42a2a" stroke-width="1.7" stroke-dasharray="5.4,4.5,1.3,4.55" stroke-dashoffset="1.5"/>
<line x1="1037.40" y1="687.00" x2="1037.40" y2="885.50" stroke="#111" stroke-width="1.7" stroke-dasharray="5.4,4.5,1.3,4.55" stroke-dashoffset="1.5"/>
<text transform="translate(626.00,791.00) rotate(-90)" font-size="18.8" font-weight="bold" text-anchor="middle" fill="#000" textLength="116.5" lengthAdjust="spacingAndGlyphs">inhibition [%]</text>
<text x="579.10" y="901.00" font-size="31.284916201117287" font-weight="bold" text-anchor="start" fill="#000">F</text>
<text x="764.40" y="629.50" font-size="17.7" font-weight="bold" text-anchor="start" fill="#000" textLength="195.6" lengthAdjust="spacingAndGlyphs">days post vaccination</text>
<text x="174.00" y="940.30" font-size="17.7" font-weight="bold" text-anchor="start" fill="#000" textLength="195.6" lengthAdjust="spacingAndGlyphs">days post vaccination</text>
<text x="762.90" y="940.40" font-size="17.7" font-weight="bold" text-anchor="start" fill="#000" textLength="196.5" lengthAdjust="spacingAndGlyphs">days post vaccination</text>
<circle cx="87.00" cy="190.00" r="3.0" fill="#000"/>
<circle cx="87.00" cy="200.00" r="3.0" fill="#000"/>
<circle cx="86.50" cy="210.00" r="3.0" fill="#000"/>
<circle cx="88.00" cy="214.50" r="3.0" fill="#000"/>
<circle cx="87.00" cy="219.00" r="3.0" fill="#000"/>
<circle cx="87.00" cy="227.50" r="3.0" fill="#000"/>
<circle cx="119.50" cy="124.50" r="3.0" fill="#000"/>
<circle cx="119.50" cy="129.00" r="3.0" fill="#000"/>
<circle cx="118.00" cy="141.00" r="3.0" fill="#000"/>
<circle cx="121.00" cy="139.50" r="3.0" fill="#000"/>
<circle cx="119.50" cy="162.00" r="3.0" fill="#000"/>
<circle cx="118.00" cy="175.00" r="3.0" fill="#000"/>
<circle cx="121.00" cy="172.50" r="3.0" fill="#000"/>
<circle cx="153.00" cy="135.00" r="3.0" fill="#000"/>
<circle cx="150.00" cy="141.00" r="3.0" fill="#000"/>
<circle cx="154.00" cy="141.00" r="3.0" fill="#000"/>
<circle cx="152.00" cy="147.00" r="3.0" fill="#000"/>
<circle cx="155.00" cy="166.00" r="3.0" fill="#000"/>
<circle cx="150.00" cy="168.00" r="3.0" fill="#000"/>
<circle cx="152.00" cy="174.00" r="3.0" fill="#000"/>
<circle cx="152.00" cy="192.30" r="3.0" fill="#000"/>
<circle cx="184.00" cy="117.50" r="3.0" fill="#000"/>
<circle cx="186.00" cy="123.00" r="3.0" fill="#000"/>
<circle cx="184.00" cy="135.00" r="3.0" fill="#000"/>
<circle cx="186.00" cy="139.40" r="3.0" fill="#000"/>
<circle cx="184.50" cy="147.00" r="3.0" fill="#000"/>
<circle cx="184.00" cy="153.75" r="3.0" fill="#000"/>
<circle cx="186.00" cy="153.00" r="3.0" fill="#000"/>
<circle cx="185.00" cy="160.60" r="3.0" fill="#000"/>
<circle cx="184.70" cy="187.10" r="3.0" fill="#000"/>
<circle cx="216.50" cy="126.00" r="3.0" fill="#000"/>
<circle cx="219.00" cy="126.00" r="3.0" fill="#000"/>
<circle cx="216.00" cy="132.00" r="3.0" fill="#000"/>
<circle cx="216.00" cy="138.00" r="3.0" fill="#000"/>
<circle cx="219.00" cy="137.00" r="3.0" fill="#000"/>
<circle cx="217.00" cy="148.00" r="3.0" fill="#000"/>
<circle cx="215.50" cy="163.00" r="3.0" fill="#000"/>
<circle cx="218.00" cy="168.00" r="3.0" fill="#000"/>
<circle cx="217.00" cy="183.00" r="3.0" fill="#000"/>
<circle cx="249.50" cy="117.50" r="3.0" fill="#000"/>
<circle cx="248.00" cy="130.00" r="3.0" fill="#000"/>
<circle cx="251.00" cy="127.00" r="3.0" fill="#000"/>
<circle cx="250.00" cy="139.00" r="3.0" fill="#000"/>
<circle cx="248.50" cy="144.00" r="3.0" fill="#000"/>
<circle cx="251.00" cy="142.00" r="3.0" fill="#000"/>
<circle cx="249.50" cy="153.00" r="3.0" fill="#000"/>
<circle cx="249.50" cy="158.00" r="3.0" fill="#000"/>
<circle cx="249.60" cy="185.60" r="3.0" fill="#000"/>
<circle cx="282.00" cy="125.00" r="3.0" fill="#000"/>
<circle cx="283.00" cy="128.00" r="3.0" fill="#000"/>
<circle cx="281.00" cy="130.00" r="3.0" fill="#000"/>
<circle cx="282.00" cy="139.00" r="3.0" fill="#000"/>
<circle cx="282.00" cy="141.00" r="3.0" fill="#000"/>
<circle cx="283.00" cy="156.00" r="3.0" fill="#000"/>
<circle cx="281.00" cy="161.00" r="3.0" fill="#000"/>
<circle cx="281.90" cy="185.60" r="3.0" fill="#000"/>
<circle cx="314.50" cy="120.00" r="3.0" fill="#000"/>
<circle cx="315.00" cy="126.00" r="3.0" fill="#000"/>
<circle cx="315.00" cy="135.00" r="3.0" fill="#000"/>
<circle cx="315.00" cy="142.50" r="3.0" fill="#000"/>
<circle cx="313.50" cy="159.00" r="3.0" fill="#000"/>
<circle cx="316.00" cy="157.00" r="3.0" fill="#000"/>
<circle cx="314.40" cy="189.40" r="3.0" fill="#000"/>
<circle cx="380.00" cy="111.50" r="3.0" fill="#000"/>
<circle cx="379.00" cy="114.50" r="3.0" fill="#000"/>
<circle cx="381.00" cy="116.50" r="3.0" fill="#000"/>
<circle cx="380.00" cy="118.50" r="3.0" fill="#000"/>
<circle cx="380.00" cy="127.00" r="3.0" fill="#000"/>
<circle cx="380.00" cy="140.60" r="3.0" fill="#000"/>
<circle cx="412.00" cy="115.00" r="3.0" fill="#000"/>
<circle cx="412.00" cy="119.00" r="3.0" fill="#000"/>
<circle cx="412.00" cy="122.50" r="3.0" fill="#000"/>
<circle cx="411.00" cy="126.00" r="3.0" fill="#000"/>
<circle cx="412.00" cy="132.00" r="3.0" fill="#000"/>
<circle cx="412.00" cy="136.00" r="3.0" fill="#000"/>
<circle cx="412.00" cy="151.25" r="3.0" fill="#000"/>
<circle cx="445.00" cy="117.00" r="3.0" fill="#000"/>
<circle cx="444.00" cy="131.00" r="3.0" fill="#000"/>
<circle cx="445.00" cy="134.50" r="3.0" fill="#000"/>
<circle cx="445.00" cy="143.00" r="3.0" fill="#000"/>
<circle cx="444.00" cy="146.00" r="3.0" fill="#000"/>
<circle cx="445.00" cy="150.00" r="3.0" fill="#000"/>
<circle cx="444.00" cy="154.00" r="3.0" fill="#000"/>
<circle cx="443.50" cy="182.50" r="3.0" fill="#000"/>
<circle cx="99.40" cy="215.60" r="3.0" fill="#1b9bb7"/>
<circle cx="99.40" cy="229.00" r="3.0" fill="#1b9bb7"/>
<circle cx="133.00" cy="227.00" r="3.0" fill="#1b9bb7"/>
<circle cx="130.60" cy="231.25" r="3.0" fill="#1b9bb7"/>
<circle cx="164.40" cy="210.90" r="3.0" fill="#1b9bb7"/>
<circle cx="164.40" cy="231.70" r="3.0" fill="#1b9bb7"/>
<circle cx="196.70" cy="200.20" r="3.0" fill="#1b9bb7"/>
<circle cx="196.70" cy="211.80" r="3.0" fill="#1b9bb7"/>
<circle cx="229.40" cy="210.60" r="3.0" fill="#1b9bb7"/>
<circle cx="229.40" cy="216.90" r="3.0" fill="#1b9bb7"/>
<circle cx="261.90" cy="205.60" r="3.0" fill="#1b9bb7"/>
<circle cx="261.90" cy="222.50" r="3.0" fill="#1b9bb7"/>
<circle cx="293.50" cy="209.40" r="3.0" fill="#1b9bb7"/>
<circle cx="295.60" cy="207.75" r="3.0" fill="#1b9bb7"/>
<circle cx="326.90" cy="207.75" r="3.0" fill="#1b9bb7"/>
<circle cx="326.90" cy="220.60" r="3.0" fill="#1b9bb7"/>
<circle cx="359.50" cy="116.00" r="3.0" fill="#1b9bb7"/>
<circle cx="359.50" cy="154.00" r="3.0" fill="#1b9bb7"/>
<circle cx="677.00" cy="210.00" r="2.85" fill="#000"/>
<circle cx="677.00" cy="213.75" r="2.85" fill="#000"/>
<circle cx="676.00" cy="216.00" r="2.85" fill="#000"/>
<circle cx="678.00" cy="219.50" r="2.85" fill="#000"/>
<circle cx="677.00" cy="223.00" r="2.85" fill="#000"/>
<circle cx="709.00" cy="111.00" r="2.85" fill="#000"/>
<circle cx="710.00" cy="114.50" r="2.85" fill="#000"/>
<circle cx="709.00" cy="118.50" r="2.85" fill="#000"/>
<circle cx="710.00" cy="121.50" r="2.85" fill="#000"/>
<circle cx="709.00" cy="124.50" r="2.85" fill="#000"/>
<circle cx="710.00" cy="127.50" r="2.85" fill="#000"/>
<circle cx="708.50" cy="127.50" r="2.85" fill="#000"/>
<circle cx="709.50" cy="131.50" r="2.85" fill="#000"/>
<circle cx="709.50" cy="144.30" r="2.85" fill="#000"/>
<circle cx="742.00" cy="105.20" r="2.85" fill="#000"/>
<circle cx="743.00" cy="106.50" r="2.85" fill="#000"/>
<circle cx="742.00" cy="109.00" r="2.85" fill="#000"/>
<circle cx="742.50" cy="111.00" r="2.85" fill="#000"/>
<circle cx="741.50" cy="112.00" r="2.85" fill="#000"/>
<circle cx="743.00" cy="121.00" r="2.85" fill="#000"/>
<circle cx="741.50" cy="124.60" r="2.85" fill="#000"/>
<circle cx="774.50" cy="103.20" r="2.85" fill="#000"/>
<circle cx="776.00" cy="106.00" r="2.85" fill="#000"/>
<circle cx="774.50" cy="109.00" r="2.85" fill="#000"/>
<circle cx="775.00" cy="111.50" r="2.85" fill="#000"/>
<circle cx="775.00" cy="114.80" r="2.85" fill="#000"/>
<circle cx="806.50" cy="98.50" r="2.85" fill="#000"/>
<circle cx="807.50" cy="101.50" r="2.85" fill="#000"/>
<circle cx="807.00" cy="105.00" r="2.85" fill="#000"/>
<circle cx="807.00" cy="107.00" r="2.85" fill="#000"/>
<circle cx="807.00" cy="110.00" r="2.85" fill="#000"/>
<circle cx="839.50" cy="99.20" r="2.85" fill="#000"/>
<circle cx="841.00" cy="100.50" r="2.85" fill="#000"/>
<circle cx="839.00" cy="103.50" r="2.85" fill="#000"/>
<circle cx="840.00" cy="105.50" r="2.85" fill="#000"/>
<circle cx="839.50" cy="107.60" r="2.85" fill="#000"/>
<circle cx="872.50" cy="101.00" r="2.85" fill="#000"/>
<circle cx="873.00" cy="104.00" r="2.85" fill="#000"/>
<circle cx="872.50" cy="107.00" r="2.85" fill="#000"/>
<circle cx="872.00" cy="108.00" r="2.85" fill="#000"/>
<circle cx="904.50" cy="100.00" r="2.85" fill="#000"/>
<circle cx="905.50" cy="103.00" r="2.85" fill="#000"/>
<circle cx="904.00" cy="106.00" r="2.85" fill="#000"/>
<circle cx="905.00" cy="107.00" r="2.85" fill="#000"/>
<circle cx="905.00" cy="111.00" r="2.85" fill="#000"/>
<circle cx="905.00" cy="137.50" r="2.85" fill="#000"/>
<circle cx="970.00" cy="97.00" r="2.85" fill="#000"/>
<circle cx="969.50" cy="101.00" r="2.85" fill="#000"/>
<circle cx="970.00" cy="104.50" r="2.85" fill="#000"/>
<circle cx="1002.50" cy="97.00" r="2.85" fill="#000"/>
<circle cx="1002.50" cy="100.00" r="2.85" fill="#000"/>
<circle cx="1003.00" cy="101.00" r="2.85" fill="#000"/>
<circle cx="1035.00" cy="101.50" r="2.85" fill="#000"/>
<circle cx="1036.00" cy="100.00" r="2.85" fill="#000"/>
<circle cx="1034.50" cy="110.00" r="2.85" fill="#000"/>
<circle cx="688.75" cy="218.75" r="2.85" fill="#4b99f2"/>
<circle cx="690.50" cy="215.00" r="2.85" fill="#4b99f2"/>
<circle cx="721.90" cy="219.90" r="2.85" fill="#4b99f2"/>
<circle cx="721.90" cy="240.30" r="2.85" fill="#4b99f2"/>
<circle cx="753.25" cy="228.75" r="2.85" fill="#4b99f2"/>
<circle cx="756.25" cy="225.50" r="2.85" fill="#4b99f2"/>
<circle cx="785.75" cy="226.25" r="2.85" fill="#4b99f2"/>
<circle cx="788.25" cy="222.50" r="2.85" fill="#4b99f2"/>
<circle cx="819.50" cy="209.50" r="2.85" fill="#4b99f2"/>
<circle cx="819.50" cy="226.75" r="2.85" fill="#4b99f2"/>
<circle cx="851.25" cy="211.25" r="2.85" fill="#4b99f2"/>
<circle cx="853.75" cy="209.25" r="2.85" fill="#4b99f2"/>
<circle cx="883.30" cy="247.50" r="2.85" fill="#4b99f2"/>
<circle cx="886.00" cy="245.90" r="2.85" fill="#4b99f2"/>
<circle cx="915.70" cy="245.90" r="2.85" fill="#4b99f2"/>
<circle cx="918.60" cy="244.00" r="2.85" fill="#4b99f2"/>
<circle cx="948.50" cy="143.00" r="2.85" fill="#4b99f2"/>
<circle cx="951.00" cy="138.00" r="2.85" fill="#4b99f2"/>
<circle cx="96.75" cy="494.25" r="2.7" fill="#000"/>
<circle cx="96.75" cy="509.50" r="2.7" fill="#000"/>
<circle cx="105.00" cy="520.00" r="2.7" fill="#000"/>
<circle cx="89.25" cy="525.75" r="2.7" fill="#000"/>
<circle cx="105.00" cy="530.00" r="2.7" fill="#000"/>
<circle cx="96.75" cy="545.50" r="2.7" fill="#000"/>
<circle cx="121.25" cy="430.75" r="2.7" fill="#000"/>
<circle cx="129.00" cy="438.00" r="2.7" fill="#000"/>
<circle cx="136.75" cy="430.00" r="2.7" fill="#000"/>
<circle cx="121.25" cy="444.50" r="2.7" fill="#000"/>
<circle cx="136.75" cy="448.00" r="2.7" fill="#000"/>
<circle cx="129.00" cy="455.50" r="2.7" fill="#000"/>
<circle cx="153.00" cy="432.00" r="2.7" fill="#000"/>
<circle cx="160.75" cy="422.50" r="2.7" fill="#000"/>
<circle cx="168.75" cy="433.75" r="2.7" fill="#000"/>
<circle cx="160.75" cy="439.50" r="2.7" fill="#000"/>
<circle cx="153.00" cy="450.00" r="2.7" fill="#000"/>
<circle cx="168.75" cy="446.25" r="2.7" fill="#000"/>
<circle cx="185.00" cy="424.50" r="2.7" fill="#000"/>
<circle cx="190.00" cy="429.50" r="2.7" fill="#000"/>
<circle cx="194.50" cy="427.00" r="2.7" fill="#000"/>
<circle cx="200.00" cy="428.00" r="2.7" fill="#000"/>
<circle cx="194.50" cy="433.75" r="2.7" fill="#000"/>
<circle cx="192.00" cy="439.50" r="2.7" fill="#000"/>
<circle cx="224.25" cy="421.25" r="2.7" fill="#000"/>
<circle cx="216.50" cy="430.00" r="2.7" fill="#000"/>
<circle cx="224.25" cy="433.00" r="2.7" fill="#000"/>
<circle cx="232.00" cy="430.75" r="2.7" fill="#000"/>
<circle cx="216.50" cy="438.00" r="2.7" fill="#000"/>
<circle cx="232.00" cy="438.00" r="2.7" fill="#000"/>
<circle cx="248.50" cy="429.25" r="2.7" fill="#000"/>
<circle cx="256.25" cy="432.75" r="2.7" fill="#000"/>
<circle cx="264.00" cy="427.00" r="2.7" fill="#000"/>
<circle cx="264.00" cy="433.00" r="2.7" fill="#000"/>
<circle cx="248.50" cy="437.50" r="2.7" fill="#000"/>
<circle cx="280.50" cy="428.75" r="2.7" fill="#000"/>
<circle cx="285.50" cy="423.00" r="2.7" fill="#000"/>
<circle cx="290.75" cy="424.50" r="2.7" fill="#000"/>
<circle cx="295.50" cy="428.00" r="2.7" fill="#000"/>
<circle cx="290.75" cy="432.50" r="2.7" fill="#000"/>
<circle cx="285.50" cy="435.75" r="2.7" fill="#000"/>
<circle cx="320.00" cy="415.00" r="2.7" fill="#000"/>
<circle cx="312.00" cy="427.50" r="2.7" fill="#000"/>
<circle cx="320.00" cy="424.50" r="2.7" fill="#000"/>
<circle cx="327.50" cy="429.50" r="2.7" fill="#000"/>
<circle cx="316.25" cy="437.50" r="2.7" fill="#000"/>
<circle cx="323.75" cy="437.50" r="2.7" fill="#000"/>
<circle cx="383.25" cy="397.00" r="2.7" fill="#000"/>
<circle cx="375.75" cy="428.75" r="2.7" fill="#000"/>
<circle cx="383.25" cy="431.75" r="2.7" fill="#000"/>
<circle cx="391.25" cy="423.75" r="2.7" fill="#000"/>
<circle cx="391.25" cy="432.00" r="2.7" fill="#000"/>
<circle cx="375.75" cy="436.25" r="2.7" fill="#000"/>
<circle cx="407.50" cy="421.25" r="2.7" fill="#000"/>
<circle cx="415.50" cy="424.50" r="2.7" fill="#000"/>
<circle cx="423.25" cy="424.50" r="2.7" fill="#000"/>
<circle cx="407.50" cy="447.50" r="2.7" fill="#000"/>
<circle cx="415.50" cy="441.75" r="2.7" fill="#000"/>
<circle cx="423.25" cy="441.75" r="2.7" fill="#000"/>
<circle cx="447.00" cy="423.25" r="2.7" fill="#000"/>
<circle cx="447.00" cy="430.75" r="2.7" fill="#000"/>
<circle cx="439.50" cy="438.25" r="2.7" fill="#000"/>
<circle cx="439.50" cy="449.50" r="2.7" fill="#000"/>
<circle cx="447.00" cy="444.25" r="2.7" fill="#000"/>
<circle cx="455.50" cy="444.25" r="2.7" fill="#000"/>
<circle cx="679.50" cy="531.80" r="2.6" fill="#000"/>
<circle cx="686.70" cy="519.80" r="2.6" fill="#000"/>
<circle cx="686.70" cy="526.50" r="2.6" fill="#000"/>
<circle cx="694.60" cy="517.30" r="2.6" fill="#000"/>
<circle cx="694.60" cy="523.60" r="2.6" fill="#000"/>
<circle cx="694.60" cy="530.60" r="2.6" fill="#000"/>
<circle cx="711.25" cy="421.25" r="2.6" fill="#000"/>
<circle cx="715.50" cy="423.00" r="2.6" fill="#000"/>
<circle cx="719.50" cy="424.50" r="2.6" fill="#000"/>
<circle cx="723.75" cy="423.25" r="2.6" fill="#000"/>
<circle cx="727.50" cy="423.25" r="2.6" fill="#000"/>
<circle cx="718.75" cy="430.75" r="2.6" fill="#000"/>
<circle cx="743.00" cy="413.00" r="2.6" fill="#000"/>
<circle cx="747.50" cy="410.75" r="2.6" fill="#000"/>
<circle cx="751.25" cy="412.50" r="2.6" fill="#000"/>
<circle cx="755.50" cy="413.75" r="2.6" fill="#000"/>
<circle cx="758.75" cy="412.00" r="2.6" fill="#000"/>
<circle cx="775.00" cy="409.25" r="2.6" fill="#000"/>
<circle cx="778.00" cy="416.25" r="2.6" fill="#000"/>
<circle cx="782.50" cy="410.00" r="2.6" fill="#000"/>
<circle cx="786.25" cy="409.50" r="2.6" fill="#000"/>
<circle cx="791.25" cy="409.50" r="2.6" fill="#000"/>
<circle cx="806.25" cy="410.00" r="2.6" fill="#000"/>
<circle cx="810.50" cy="409.25" r="2.6" fill="#000"/>
<circle cx="814.50" cy="410.00" r="2.6" fill="#000"/>
<circle cx="819.50" cy="412.00" r="2.6" fill="#000"/>
<circle cx="822.00" cy="409.25" r="2.6" fill="#000"/>
<circle cx="838.75" cy="409.50" r="2.6" fill="#000"/>
<circle cx="843.75" cy="409.25" r="2.6" fill="#000"/>
<circle cx="848.75" cy="410.00" r="2.6" fill="#000"/>
<circle cx="853.75" cy="409.50" r="2.6" fill="#000"/>
<circle cx="848.00" cy="412.00" r="2.6" fill="#000"/>
<circle cx="870.00" cy="409.50" r="2.6" fill="#000"/>
<circle cx="874.00" cy="409.50" r="2.6" fill="#000"/>
<circle cx="878.00" cy="409.50" r="2.6" fill="#000"/>
<circle cx="882.00" cy="409.50" r="2.6" fill="#000"/>
<circle cx="886.00" cy="409.50" r="2.6" fill="#000"/>
<circle cx="901.00" cy="411.00" r="2.6" fill="#000"/>
<circle cx="905.00" cy="408.00" r="2.6" fill="#000"/>
<circle cx="910.00" cy="409.00" r="2.6" fill="#000"/>
<circle cx="914.00" cy="408.00" r="2.6" fill="#000"/>
<circle cx="918.00" cy="410.00" r="2.6" fill="#000"/>
<circle cx="965.00" cy="411.00" r="2.6" fill="#000"/>
<circle cx="969.00" cy="409.00" r="2.6" fill="#000"/>
<circle cx="973.00" cy="408.00" r="2.6" fill="#000"/>
<circle cx="977.00" cy="409.00" r="2.6" fill="#000"/>
<circle cx="981.00" cy="407.00" r="2.6" fill="#000"/>
<circle cx="981.00" cy="413.00" r="2.6" fill="#000"/>
<circle cx="998.00" cy="406.50" r="2.6" fill="#000"/>
<circle cx="1002.00" cy="406.00" r="2.6" fill="#000"/>
<circle cx="1006.00" cy="407.00" r="2.6" fill="#000"/>
<circle cx="1010.00" cy="407.00" r="2.6" fill="#000"/>
<circle cx="1014.00" cy="407.00" r="2.6" fill="#000"/>
<circle cx="1029.00" cy="410.50" r="2.6" fill="#000"/>
<circle cx="1033.00" cy="410.00" r="2.6" fill="#000"/>
<circle cx="1037.00" cy="410.00" r="2.6" fill="#000"/>
<circle cx="1041.00" cy="410.00" r="2.6" fill="#000"/>
<circle cx="1045.00" cy="410.50" r="2.6" fill="#000"/>
<line x1="676.90" y1="525.10" x2="697.10" y2="525.10" stroke="#000" stroke-width="1.6"/>
<circle cx="89.50" cy="824.25" r="2.7" fill="#000"/>
<circle cx="89.50" cy="832.50" r="2.7" fill="#000"/>
<circle cx="96.75" cy="825.75" r="2.7" fill="#000"/>
<circle cx="104.50" cy="819.25" r="2.7" fill="#000"/>
<circle cx="104.50" cy="828.00" r="2.7" fill="#000"/>
<circle cx="129.25" cy="810.00" r="2.7" fill="#000"/>
<circle cx="129.25" cy="822.50" r="2.7" fill="#000"/>
<circle cx="129.25" cy="829.50" r="2.7" fill="#000"/>
<circle cx="129.25" cy="839.50" r="2.7" fill="#000"/>
<circle cx="153.25" cy="821.25" r="2.7" fill="#000"/>
<circle cx="153.25" cy="828.00" r="2.7" fill="#000"/>
<circle cx="160.75" cy="809.50" r="2.7" fill="#000"/>
<circle cx="160.75" cy="822.50" r="2.7" fill="#000"/>
<circle cx="168.75" cy="824.25" r="2.7" fill="#000"/>
<circle cx="184.50" cy="818.00" r="2.7" fill="#000"/>
<circle cx="192.50" cy="825.75" r="2.7" fill="#000"/>
<circle cx="192.50" cy="835.50" r="2.7" fill="#000"/>
<circle cx="192.50" cy="845.00" r="2.7" fill="#000"/>
<circle cx="200.50" cy="819.25" r="2.7" fill="#000"/>
<circle cx="216.25" cy="845.00" r="2.7" fill="#000"/>
<circle cx="220.75" cy="845.00" r="2.7" fill="#000"/>
<circle cx="225.00" cy="845.00" r="2.7" fill="#000"/>
<circle cx="228.75" cy="845.00" r="2.7" fill="#000"/>
<circle cx="232.00" cy="845.00" r="2.7" fill="#000"/>
<circle cx="224.25" cy="835.50" r="2.7" fill="#000"/>
<circle cx="248.75" cy="830.00" r="2.7" fill="#000"/>
<circle cx="256.25" cy="815.00" r="2.7" fill="#000"/>
<circle cx="256.25" cy="828.00" r="2.7" fill="#000"/>
<circle cx="264.25" cy="828.00" r="2.7" fill="#000"/>
<circle cx="280.00" cy="823.75" r="2.7" fill="#000"/>
<circle cx="283.75" cy="822.50" r="2.7" fill="#000"/>
<circle cx="287.50" cy="823.00" r="2.7" fill="#000"/>
<circle cx="291.25" cy="823.75" r="2.7" fill="#000"/>
<circle cx="295.50" cy="825.50" r="2.7" fill="#000"/>
<circle cx="311.25" cy="823.75" r="2.7" fill="#000"/>
<circle cx="315.00" cy="822.50" r="2.7" fill="#000"/>
<circle cx="318.75" cy="822.50" r="2.7" fill="#000"/>
<circle cx="322.50" cy="823.75" r="2.7" fill="#000"/>
<circle cx="326.25" cy="824.50" r="2.7" fill="#000"/>
<circle cx="328.75" cy="826.00" r="2.7" fill="#000"/>
<circle cx="351.75" cy="700.00" r="2.7" fill="#000"/>
<circle cx="344.25" cy="733.25" r="2.7" fill="#000"/>
<circle cx="359.25" cy="732.50" r="2.7" fill="#000"/>
<circle cx="351.75" cy="764.50" r="2.7" fill="#000"/>
<circle cx="351.75" cy="774.25" r="2.7" fill="#000"/>
<circle cx="679.50" cy="843.75" r="2.7" fill="#000"/>
<circle cx="683.00" cy="828.00" r="2.7" fill="#000"/>
<circle cx="687.00" cy="839.25" r="2.7" fill="#000"/>
<circle cx="690.75" cy="832.00" r="2.7" fill="#000"/>
<circle cx="695.00" cy="840.75" r="2.7" fill="#000"/>
<circle cx="711.25" cy="846.75" r="2.7" fill="#000"/>
<circle cx="718.75" cy="832.00" r="2.7" fill="#000"/>
<circle cx="718.75" cy="843.75" r="2.7" fill="#000"/>
<circle cx="726.25" cy="839.25" r="2.7" fill="#000"/>
<circle cx="726.25" cy="846.75" r="2.7" fill="#000"/>
<circle cx="743.25" cy="844.50" r="2.7" fill="#000"/>
<circle cx="750.50" cy="830.75" r="2.7" fill="#000"/>
<circle cx="750.50" cy="839.25" r="2.7" fill="#000"/>
<circle cx="750.50" cy="854.50" r="2.7" fill="#000"/>
<circle cx="758.25" cy="845.50" r="2.7" fill="#000"/>
<circle cx="774.50" cy="850.75" r="2.7" fill="#000"/>
<circle cx="782.50" cy="815.50" r="2.7" fill="#000"/>
<circle cx="782.50" cy="829.25" r="2.7" fill="#000"/>
<circle cx="782.50" cy="861.25" r="2.7" fill="#000"/>
<circle cx="790.00" cy="854.50" r="2.7" fill="#000"/>
<circle cx="806.75" cy="830.00" r="2.7" fill="#000"/>
<circle cx="806.75" cy="837.00" r="2.7" fill="#000"/>
<circle cx="814.25" cy="833.00" r="2.7" fill="#000"/>
<circle cx="821.75" cy="827.50" r="2.7" fill="#000"/>
<circle cx="821.75" cy="834.25" r="2.7" fill="#000"/>
<circle cx="838.25" cy="845.00" r="2.7" fill="#000"/>
<circle cx="843.75" cy="840.00" r="2.7" fill="#000"/>
<circle cx="845.75" cy="833.75" r="2.7" fill="#000"/>
<circle cx="849.25" cy="841.75" r="2.7" fill="#000"/>
<circle cx="854.25" cy="840.50" r="2.7" fill="#000"/>
<circle cx="870.75" cy="882.00" r="2.7" fill="#000"/>
<circle cx="878.25" cy="849.50" r="2.7" fill="#000"/>
<circle cx="878.25" cy="857.00" r="2.7" fill="#000"/>
<circle cx="878.25" cy="870.50" r="2.7" fill="#000"/>
<circle cx="885.75" cy="880.75" r="2.7" fill="#000"/>
<circle cx="902.00" cy="865.75" r="2.7" fill="#000"/>
<circle cx="902.00" cy="873.00" r="2.7" fill="#000"/>
<circle cx="910.00" cy="856.75" r="2.7" fill="#000"/>
<circle cx="918.00" cy="867.50" r="2.7" fill="#000"/>
<circle cx="941.60" cy="747.30" r="2.7" fill="#000"/>
<circle cx="934.50" cy="760.30" r="2.7" fill="#000"/>
<circle cx="949.80" cy="756.50" r="2.7" fill="#000"/>
<circle cx="941.60" cy="769.90" r="2.7" fill="#000"/>
<circle cx="941.60" cy="780.80" r="2.7" fill="#000"/>
</svg></body></html>
